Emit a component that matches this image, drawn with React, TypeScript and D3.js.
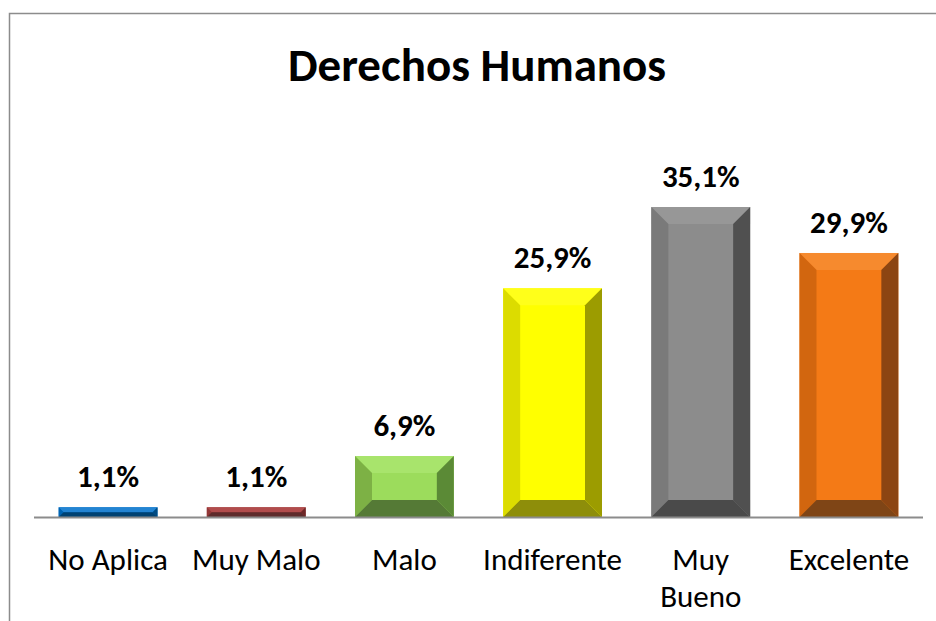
import React from "react";
import * as d3 from "d3";

const categories = ["No Aplica", "Muy Malo", "Malo", "Indiferente", "Muy Bueno", "Excelente"];
const values = [1.1, 1.1, 6.9, 25.9, 35.1, 29.9];
const valueLabels = ["1,1%", "1,1%", "6,9%", "25,9%", "35,1%", "29,9%"];
const faceColors = ["#0070C6", "#A33E3E", "#9CDC5C", "#FFFF00", "#8C8C8C", "#F47A16"];
const topColors = ["#2384D2", "#B14C4C", "#A8E46C", "#FFFF1A", "#979797", "#F68A2E"];
const leftColors = ["#0064B2", "#933838", "#7DB145", "#DCDC00", "#7A7A7A", "#D2660F"];
const rightColors = ["#004B82", "#6E2828", "#5B8A36", "#9C9C00", "#505050", "#8C4512"];
const bottomColors = ["#004272", "#5E2B2B", "#557A36", "#8E8E0A", "#4A4A4A", "#7F4516"];

const W = 936;
const H = 621;
const plotLeft = 34;
const plotRight = 923;
const baseY = 517;
const pxPerUnit = 8.83;

export default function App() {
  const x = d3.scaleBand<string>().domain(categories).range([plotLeft, plotRight]).paddingInner(0.333).paddingOuter(0.1665);
  const y = d3.scaleLinear().domain([0, 40]).range([baseY, baseY - 40 * pxPerUnit]);
  const font = "Carlito, Calibri, Lato, 'Open Sans', sans-serif";

  return (
    <svg width={W} height={H} style={{ position: "absolute", left: 0, top: 0 }} xmlns="http://www.w3.org/2000/svg">
      <rect x={0} y={0} width={W} height={H} fill="#fff" />
      <rect x={9.5} y={13.5} width={W + 20} height={H + 20} fill="#fff" stroke="#8c8c8c" strokeWidth={1.5} />
      <text x={477} y={81} textAnchor="middle" fontFamily={font} fontWeight="bold" fontSize={47} fill="#000">
        Derechos Humanos
      </text>
      {categories.map((c, i) => {
        const x0 = x(c)!;
        const x1 = x0 + x.bandwidth();
        const y0 = y(values[i]);
        const y1 = y(0);
        const b = Math.min(17, (y1 - y0) / 2, (x1 - x0) / 2);
        const pts = (arr: number[][]) => arr.map((p) => p.join(",")).join(" ");
        return (
          <g key={c}>
            <rect x={x0} y={y0} width={x1 - x0} height={y1 - y0} fill={faceColors[i]} />
            <polygon points={pts([[x0, y0], [x1, y0], [x1 - b, y0 + b], [x0 + b, y0 + b]])} fill={topColors[i]} />
            <polygon points={pts([[x0, y0], [x0 + b, y0 + b], [x0 + b, y1 - b], [x0, y1]])} fill={leftColors[i]} />
            <polygon points={pts([[x1, y0], [x1, y1], [x1 - b, y1 - b], [x1 - b, y0 + b]])} fill={rightColors[i]} />
            <polygon points={pts([[x0, y1], [x0 + b, y1 - b], [x1 - b, y1 - b], [x1, y1]])} fill={bottomColors[i]} />
            <text x={(x0 + x1) / 2} y={y0 - 20} textAnchor="middle" fontFamily={font} fontWeight="bold" fontSize={31} fill="#000">
              {valueLabels[i]}
            </text>
          </g>
        );
      })}
      <line x1={plotLeft} x2={plotRight} y1={baseY + 0.5} y2={baseY + 0.5} stroke="#8c8c8c" strokeWidth={2} />
      {categories.map((c) => {
        const cx = x(c)! + x.bandwidth() / 2;
        const words = c === "Muy Bueno" ? ["Muy", "Bueno"] : [c];
        return (
          <text key={c} x={cx} y={570} textAnchor="middle" fontFamily={font} fontSize={31} fill="#000">
            {words.map((w, j) => (
              <tspan key={j} x={cx} dy={j === 0 ? 0 : 37}>
                {w}
              </tspan>
            ))}
          </text>
        );
      })}
    </svg>
  );
}
